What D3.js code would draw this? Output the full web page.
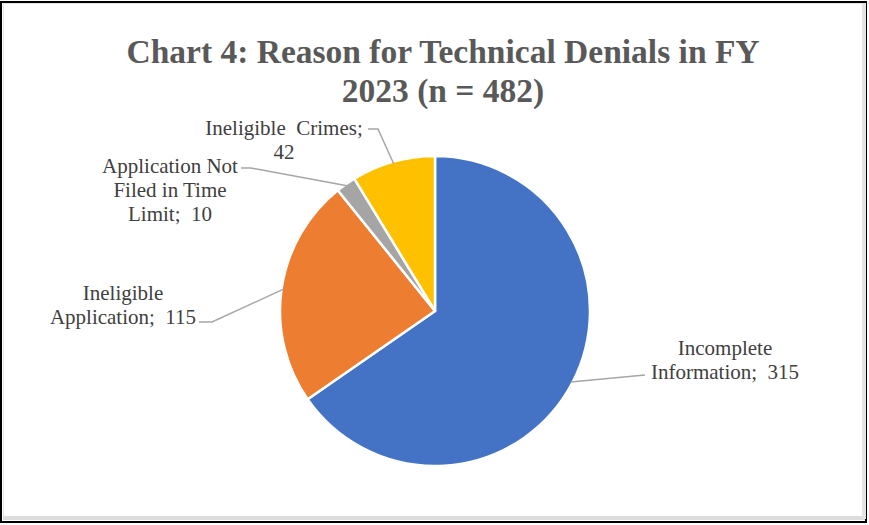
<!DOCTYPE html>
<html>
<head>
<meta charset="utf-8">
<script src="https://cdn.jsdelivr.net/npm/d3@7"></script>
<style>
  body { margin: 0; background: #fff; }
  svg { display: block; }
</style>
</head>
<body>
<div id="chart"></div>
<script>
// chart data
var categories = ["Incomplete Information", "Ineligible Application", "Application Not Filed in Time Limit", "Ineligible Crimes"];
var values = [315, 115, 10, 42];
var colors = ["#4472c4", "#ed7d31", "#a5a5a5", "#ffc000"];
var labelLines = [
    ["Incomplete", "Information;  315"],
    ["Ineligible", "Application;  115"],
    ["Application Not", "Filed in Time", "Limit;  10"],
    ["Ineligible  Crimes;", "42"]
];
var titleLines = ["Chart 4: Reason for Technical Denials in FY", "2023 (n = 482)"];

var width = 869, height = 525;
var cx = 435, cy = 311, radius = 155;

// label placement (text centre x, first baseline y, leader elbow + tail end)
var labelPos = [
    {x: 725, y: 355, elbow: [645, 375], tail: 645},
    {x: 123, y: 300, elbow: [212, 322], tail: 199},
    {x: 170, y: 173, elbow: [251, 168], tail: 241},
    {x: 284, y: 135, elbow: [378, 129], tail: 368}
];

var serif = "'Liberation Serif', 'Times New Roman', serif";

var svg = d3.select("#chart").append("svg")
    .attr("width", width)
    .attr("height", height);

// frame
svg.append("rect")
    .attr("x", 1).attr("y", 2)
    .attr("width", width - 4).attr("height", height - 5)
    .attr("fill", "#fff")
    .attr("stroke", "#000")
    .attr("stroke-width", 2);
svg.append("rect")
    .attr("x", 3.5).attr("y", 3.5)
    .attr("width", width - 9).attr("height", height - 10)
    .attr("fill", "none")
    .attr("stroke", "#e6e6e6")
    .attr("stroke-width", 1);
svg.append("rect")
    .attr("x", 3).attr("y", 516)
    .attr("width", width - 7).attr("height", 4)
    .attr("fill", "#dcdcdc");
svg.append("rect")
    .attr("x", 862).attr("y", 3)
    .attr("width", 4).attr("height", 516)
    .attr("fill", "#e4e4e4");

// title
svg.append("g").selectAll("text")
    .data(titleLines)
    .enter()
    .append("text")
        .attr("x", 443)
        .attr("y", function(d, i) { return 63 + i * 39; })
        .attr("text-anchor", "middle")
        .style("font-family", serif)
        .style("font-weight", "bold")
        .style("font-size", "33.5px")
        .style("fill", "#595959")
        .text(function(d) { return d; });

var data = categories.map(function(c, i) {
    return {name: c, value: values[i], color: colors[i], lines: labelLines[i], pos: labelPos[i]};
});

var pie = d3.pie()
    .sort(null)
    .value(function(d) { return d.value; });

var arc = d3.arc()
    .innerRadius(0)
    .outerRadius(radius);

var arcs = pie(data);

var g = svg.append("g")
    .attr("transform", "translate(" + cx + "," + cy + ")");

g.selectAll("path")
    .data(arcs)
    .enter()
    .append("path")
        .attr("d", arc)
        .attr("fill", function(d) { return d.data.color; })
        .attr("stroke", "#fff")
        .attr("stroke-width", 2.5)
        .attr("stroke-linejoin", "round");

// leader lines: slice edge -> elbow -> short horizontal tail
var edge = function(d) {
    var a = (d.startAngle + d.endAngle) / 2;
    return [cx + Math.sin(a) * (radius - 2), cy - Math.cos(a) * (radius - 2)];
};

svg.append("g").selectAll("polyline")
    .data(arcs)
    .enter()
    .append("polyline")
        .attr("points", function(d) {
            var e = d.data.pos.elbow;
            var pts = [edge(d), e, [d.data.pos.tail, e[1]]];
            return pts.map(function(q) { return q.join(","); }).join(" ");
        })
        .attr("fill", "none")
        .attr("stroke", "#a6a6a6")
        .attr("stroke-width", 1.5);

var labels = svg.append("g").selectAll("text")
    .data(arcs)
    .enter()
    .append("text")
        .attr("text-anchor", "middle")
        .style("font-family", serif)
        .style("font-size", "21px")
        .style("fill", "#404040");

labels.selectAll("tspan")
    .data(function(d) { return d.data.lines.map(function(l) { return {t: l, pos: d.data.pos}; }); })
    .enter()
    .append("tspan")
        .attr("x", function(d) { return d.pos.x; })
        .attr("y", function(d, i) { return d.pos.y + i * 24; })
        .style("white-space", "pre")
        .text(function(d) { return d.t; });
</script>
</body>
</html>
